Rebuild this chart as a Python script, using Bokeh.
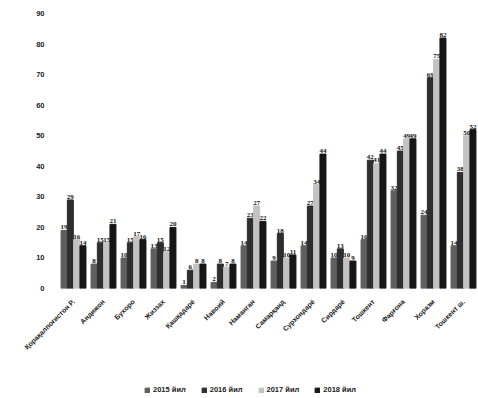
import math
from bokeh.plotting import figure
from bokeh.layouts import column
from bokeh.models import FactorRange, ColumnDataSource, Legend, LegendItem, FixedTicker
from bokeh.transform import dodge
from bokeh.core.properties import value
from bokeh.embed import file_html
from bokeh.resources import INLINE

regions = ["Қорақалпоғистон Р.", "Андижон", "Бухоро", "Жиззах", "Қашқадарё",
           "Навоий", "Наманган", "Самарқанд", "Сурхондарё", "Сирдарё",
           "Тошкент", "Фарғона", "Хоразм", "Тошкент ш."]
years = ["2015 йил", "2016 йил", "2017 йил", "2018 йил"]
v2015 = [19, 8, 10, 13, 1, 2, 14, 9, 14, 10, 16, 32, 24, 14]
v2016 = [29, 15, 15, 15, 6, 8, 23, 18, 27, 13, 42, 45, 69, 38]
v2017 = [16, 15, 17, 12, 8, 7, 27, 10, 34, 10, 41, 49, 75, 50]
v2018 = [14, 21, 16, 20, 8, 8, 22, 11, 44, 9, 44, 49, 82, 52]
y_ticks = [0, 10, 20, 30, 40, 50, 60, 70, 80, 90]

series = [v2015, v2016, v2017, v2018]
colors = ["#5f5f5f", "#2e2e2e", "#c2c2c2", "#161616"]
offsets = [-0.315, -0.105, 0.105, 0.315]

p = figure(x_range=FactorRange(factors=regions, range_padding=0), y_range=(0, 91),
           width=478, height=368, output_backend="svg", toolbar_location=None,
           min_border_left=58, min_border_right=0, min_border_top=10, min_border_bottom=80)

for vals, col, off in zip(series, colors, offsets):
    src = ColumnDataSource(dict(cat=regions, v=vals, lbl=[str(x) for x in vals]))
    p.vbar(x=dodge('cat', off, range=p.x_range), top='v', width=0.2, source=src,
           fill_color=col, line_color=col)
    p.text(x=dodge('cat', off, range=p.x_range), y='v', text='lbl', source=src,
           text_align='center', text_baseline='bottom', y_offset=-1,
           text_font=value("Liberation Serif"), text_font_style='bold',
           text_font_size='7px', text_color="#111111")

p.yaxis.ticker = FixedTicker(ticks=y_ticks)
for ax in (p.xaxis, p.yaxis):
    ax.axis_line_alpha = 0
    ax.major_tick_line_alpha = 0
    ax.minor_tick_line_alpha = 0
    ax.major_label_text_font = "Liberation Sans"
    ax.major_label_text_font_style = 'bold'
    ax.major_label_text_color = "#222222"
p.yaxis.major_label_text_font_size = '7.5px'
p.yaxis.major_label_standoff = 8
p.xaxis.major_label_text_font_size = '7px'
p.xaxis.major_label_orientation = math.pi / 4
p.xaxis.major_label_standoff = 6
p.xgrid.grid_line_alpha = 0
p.ygrid.grid_line_alpha = 0
p.outline_line_alpha = 0

# legend strip (proxy glyphs lie outside the strip's visible range)
lg = figure(width=478, height=30, output_backend="svg", toolbar_location=None,
            x_axis_type=None, y_axis_type=None, x_range=(0, 1), y_range=(0, 1),
            min_border=0)
lg.xgrid.grid_line_alpha = 0
lg.ygrid.grid_line_alpha = 0
lg.outline_line_alpha = 0
items = []
for yr, col in zip(years, colors):
    r = lg.vbar(x=[-10], top=[-10], bottom=[-11], width=0.1, fill_color=col, line_color=col)
    items.append(LegendItem(label=yr, renderers=[r]))
legend = Legend(items=items, orientation='horizontal', location=(84, 2),
                label_text_font_size='7.5px', label_text_font="Liberation Sans",
                label_text_font_style='bold', label_text_color="#222222",
                glyph_width=6, glyph_height=6, spacing=15, padding=2,
                border_line_alpha=0, background_fill_alpha=0, margin=0,
                label_standoff=3, label_height=8)
lg.add_layout(legend)

open("out.html", "w").write(file_html(column(p, lg, spacing=0), INLINE))
